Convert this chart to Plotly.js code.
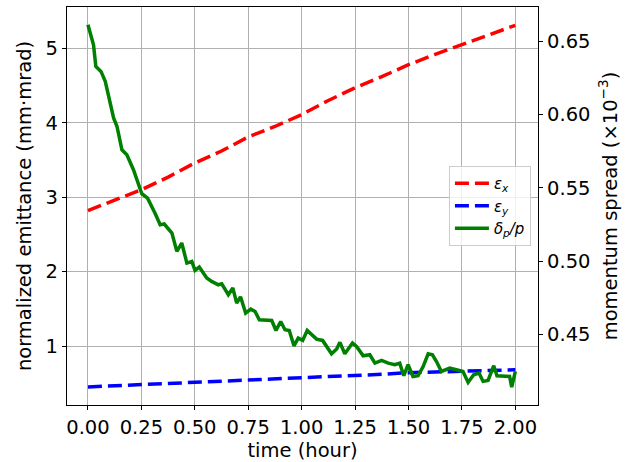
<!DOCTYPE html>
<html>
<head>
<meta charset="utf-8">
<script src="https://cdn.plot.ly/plotly-3.0.1.min.js"></script>
<style>html,body{margin:0;padding:0;background:#fff;}#chart{width:633px;height:462px;}</style>
</head>
<body>
<div id="chart"></div>
<script>
// emittance (mm·mrad) vs time (hour)
const timeEps = [0, 0.125, 0.25, 0.375, 0.5, 0.625, 0.75, 0.875, 1.0, 1.125, 1.25, 1.375, 1.5, 1.625, 1.75, 1.875, 2.0];
const epsX = [2.82, 2.96, 3.10, 3.27, 3.46, 3.62, 3.81, 3.95, 4.11, 4.30, 4.47, 4.62, 4.78, 4.92, 5.05, 5.19, 5.31];
const epsY = [0.45, 0.465, 0.48, 0.495, 0.507, 0.52, 0.535, 0.55, 0.566, 0.58, 0.60, 0.62, 0.641, 0.65, 0.66, 0.67, 0.68];

// momentum spread (x1e-3) vs time (hour)
const timeDp = [0.000,0.026,0.037,0.061,0.081,0.120,0.136,0.159,0.182,0.213,0.252,0.279,0.314,0.338,0.357,0.393,0.416,0.439,0.463,0.486,0.501,0.521,0.556,0.579,0.610,0.626,0.657,0.678,0.696,0.714,0.738,0.762,0.782,0.802,0.860,0.880,0.902,0.922,0.942,0.964,0.984,1.005,1.026,1.070,1.098,1.120,1.140,1.164,1.179,1.202,1.238,1.257,1.288,1.319,1.343,1.374,1.405,1.436,1.459,1.478,1.498,1.521,1.545,1.568,1.592,1.612,1.631,1.654,1.693,1.724,1.755,1.779,1.805,1.830,1.849,1.872,1.899,1.914,1.950,1.973,1.983,2.000];
const dp = [0.6614,0.6477,0.6329,0.6295,0.6227,0.5977,0.5919,0.5760,0.5726,0.5624,0.5460,0.5429,0.5327,0.5248,0.5253,0.5191,0.5066,0.5123,0.4986,0.4997,0.4936,0.4959,0.4884,0.4861,0.4838,0.4845,0.4770,0.4816,0.4713,0.4756,0.4645,0.4672,0.4656,0.4599,0.4594,0.4526,0.4587,0.4531,0.4526,0.4421,0.4474,0.4458,0.4526,0.4467,0.4458,0.4406,0.4367,0.4399,0.4445,0.4367,0.4440,0.4417,0.4353,0.4360,0.4303,0.4321,0.4303,0.4292,0.4303,0.4217,0.4292,0.4212,0.4217,0.4278,0.4367,0.4360,0.4314,0.4246,0.4269,0.4258,0.4246,0.4171,0.4223,0.4235,0.4178,0.4184,0.4285,0.4217,0.4212,0.4212,0.4139,0.4246];

const xTicks = [0, 0.25, 0.5, 0.75, 1.0, 1.25, 1.5, 1.75, 2.0];
const xTickText = ['0.00','0.25','0.50','0.75','1.00','1.25','1.50','1.75','2.00'];
const yTicks = [1, 2, 3, 4, 5];
const y2Ticks = [0.45, 0.50, 0.55, 0.60, 0.65];
const y2TickText = ['0.45','0.50','0.55','0.60','0.65'];

const FONT = 'DejaVu Sans, sans-serif';
const FS = 19.5;

const traces = [
  {x: timeEps, y: epsX, type: 'scatter', mode: 'lines', name: '<i>ε<sub>x</sub></i>',
   line: {color: '#ff0000', width: 3.5, dash: '14px,6px'}, yaxis: 'y'},
  {x: timeEps, y: epsY, type: 'scatter', mode: 'lines', name: '<i>ε<sub>y</sub></i>',
   line: {color: '#0000ff', width: 3.5, dash: '14px,6px'}, yaxis: 'y'},
  {x: timeDp, y: dp, type: 'scatter', mode: 'lines', name: '<i>δ<sub>p</sub>/p</i>',
   line: {color: '#008000', width: 3.5}, yaxis: 'y2'}
];

const layout = {
  width: 633, height: 462,
  margin: {l: 67, r: 95, t: 7, b: 57},
  paper_bgcolor: '#ffffff', plot_bgcolor: '#ffffff',
  font: {family: FONT, size: FS, color: '#000'},
  showlegend: true,
  legend: {x: 0.985, xanchor: 'right', y: 0.5, yanchor: 'middle',
    bgcolor: 'rgba(255,255,255,0.8)', bordercolor: '#cccccc', borderwidth: 1,
    font: {family: FONT, size: 15}, itemwidth: 34, tracegroupgap: 0},
  xaxis: {range: [-0.098, 2.106], tickvals: xTicks, ticktext: xTickText,
    showgrid: true, gridcolor: '#b0b0b0', gridwidth: 1,
    showline: true, linecolor: '#000', linewidth: 1.2, mirror: true,
    ticks: 'outside', ticklen: 4, tickcolor: '#000', zeroline: false,
    title: {text: 'time (hour)', font: {size: FS}, standoff: 0},
    tickfont: {size: FS}},
  yaxis: {range: [0.207, 5.556], tickvals: yTicks,
    showgrid: true, gridcolor: '#b0b0b0', gridwidth: 1,
    showline: true, linecolor: '#000', linewidth: 1.2, mirror: true,
    ticks: 'outside', ticklen: 4, tickcolor: '#000', zeroline: false,
    title: {text: 'normalized emittance (mm·mrad)', font: {size: FS}, standoff: 8},
    tickfont: {size: FS}},
  yaxis2: {range: [0.4017, 0.6735], tickvals: y2Ticks, ticktext: y2TickText,
    overlaying: 'y', side: 'right', showgrid: false, zeroline: false,
    showline: true, linecolor: '#000', linewidth: 1.2,
    ticks: 'outside', ticklen: 4, tickcolor: '#000',
    title: {text: 'momentum spread (×10<sup>−3</sup>)', font: {size: FS}, standoff: 13},
    tickfont: {size: FS}}
};

Plotly.newPlot('chart', traces, layout, {displayModeBar: false, staticPlot: true});
</script>
</body>
</html>
